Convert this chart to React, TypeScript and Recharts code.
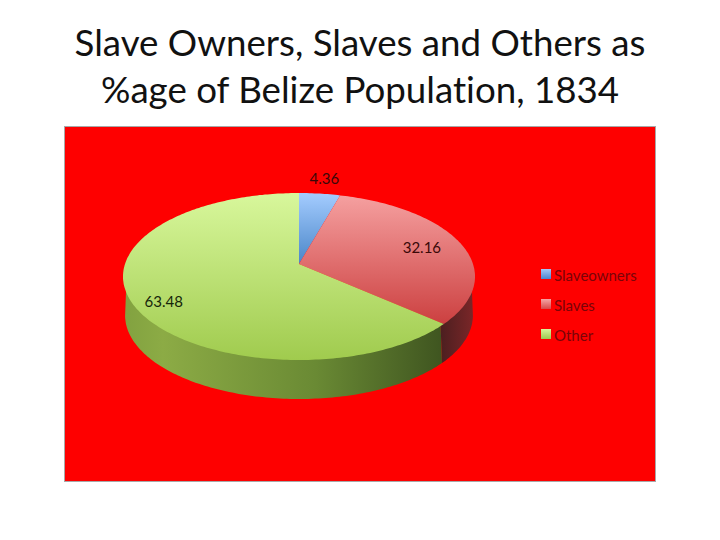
import { PieChart, Pie, Legend } from "recharts";

const titleLines = ["Slave Owners, Slaves and Others as", "%age of Belize Population, 1834"];
const groups = ["Slaveowners", "Slaves", "Other"];
const shares = [4.36, 32.16, 63.48];
const topFills = ["url(#topBlue)", "url(#topRed)", "url(#topGreen)"];
const wallFills = ["#3f6ea5", "url(#wallRed)", "url(#wallGreen)"];
const swatches = [
  "linear-gradient(#a4c8f8, #4a86d0)",
  "linear-gradient(#f5a5a5, #d84848)",
  "linear-gradient(#d8f59a, #9cc850)",
];
const labelRadii = [1.265, 0.76, 0.81];
const labelDrops = [0, 0, 8];

const rows = groups.map((name, i) => ({ name, value: shares[i], fill: topFills[i] }));

// the pie is tilted: a circle seen in perspective, so the apex sits above the ellipse centre
const FLATTEN = 0.469;
const PERSPECTIVE = 0.15;
const DEPTH = 39;
const WALL_SCALE = 0.988;
const RAD = Math.PI / 180;

function project(cx: number, cy: number, R: number, deg: number, r = 1) {
  const u = r * Math.cos(deg * RAD);
  const v = r * Math.sin(deg * RAD);
  const w = 1 + PERSPECTIVE * v;
  return { x: cx + (R * u) / w, y: cy - (R * FLATTEN * v) / w };
}

function arcPoints(cx: number, cy: number, R: number, from: number, to: number, r = 1) {
  const pts = [];
  const n = Math.max(2, Math.ceil(Math.abs(to - from)));
  for (let i = 0; i <= n; i++) pts.push(project(cx, cy, R, from + ((to - from) * i) / n, r));
  return pts;
}

const toPath = (pts: { x: number; y: number }[]) =>
  pts.map((p, i) => `${i ? "L" : "M"}${p.x.toFixed(1)} ${p.y.toFixed(1)}`).join(" ");

function Slice(props: any) {
  const { cx, cy, outerRadius, startAngle, endAngle } = props;
  const idx = groups.indexOf(props.name ?? props.payload?.name);
  const top = toPath([{ x: cx, y: cy }, ...arcPoints(cx, cy, outerRadius, startAngle, endAngle)]) + " Z";

  // only the front of the rim shows, between the far right and far left of the ellipse
  const edge = Math.asin(PERSPECTIVE) / RAD;
  const a = Math.min(startAngle, -edge);
  const b = Math.max(endAngle, -180 + edge);
  let wall = null;
  if (a > b) {
    // upper edge tucked under the top face so no red seam shows between them
    const upper = arcPoints(cx, cy, outerRadius, a, b, 0.98);
    const lower = arcPoints(cx, cy, outerRadius, a, b)
      .map((p) => ({ x: cx + (p.x - cx) * WALL_SCALE, y: p.y + DEPTH }))
      .reverse();
    wall = <path d={toPath([...upper, ...lower]) + " Z"} fill={wallFills[idx]} />;
  }
  return (
    <g>
      {wall}
      <path d={top} fill={props.fill} />
    </g>
  );
}

function SliceLabel(props: any) {
  const { cx, cy, outerRadius, midAngle, index, value } = props;
  const p = project(cx, cy, outerRadius, midAngle, labelRadii[index]);
  return (
    <text x={p.x} y={p.y + labelDrops[index]} textAnchor="middle" dominantBaseline="central" fontFamily="Lato" fontSize={15} fill={index === 2 ? "#16260a" : "#3a0808"}>
      {value}
    </text>
  );
}

function LegendBox({ payload }: any) {
  return (
    <div>
      {(payload ?? []).map((item: any, i: number) => (
        <div key={item.value} style={{ display: "flex", alignItems: "center", height: 30 }}>
          <span style={{ width: 10, height: 10, marginRight: 3, marginTop: -3, background: swatches[i] }} />
          <span style={{ fontFamily: "Lato", fontSize: 15, color: "#7a0408" }}>{item.value}</span>
        </div>
      ))}
    </div>
  );
}

export default function App() {
  return (
    <div style={{ position: "absolute", left: 0, top: 0, width: 720, height: 540, background: "#fff", overflow: "hidden" }}>
      {titleLines.map((line, i) => (
        <div
          key={line}
          style={{ position: "absolute", left: 0, width: 720, top: 18.5 + i * 47, textAlign: "center", fontFamily: "Lato", fontSize: 36.7, lineHeight: "47px", color: "#111", fontVariantLigatures: "none" }}
        >
          {line}
        </div>
      ))}
      <div style={{ position: "absolute", left: 64, top: 126, width: 590, height: 354, background: "#fe0000", border: "1px solid #a8a8a8" }} />
      <div style={{ position: "absolute", left: 0, top: 0 }}>
        <PieChart width={720} height={540} margin={{ top: 0, right: 0, bottom: 0, left: 0 }}>
          <defs>
            <linearGradient id="topBlue" x1="0" y1="0" x2="0" y2="1">
              <stop offset="0" stopColor="#a4ccff" />
              <stop offset="1" stopColor="#4a86c8" />
            </linearGradient>
            <linearGradient id="topRed" x1="0" y1="0" x2="0" y2="1">
              <stop offset="0" stopColor="#f5a0a0" />
              <stop offset="1" stopColor="#cc4040" />
            </linearGradient>
            <linearGradient id="topGreen" x1="0" y1="0" x2="0" y2="1">
              <stop offset="0" stopColor="#d8f79c" />
              <stop offset="1" stopColor="#a0cb4e" />
            </linearGradient>
            <linearGradient id="wallGreen" x1="0" y1="0" x2="1" y2="0">
              <stop offset="0" stopColor="#82a240" />
              <stop offset="0.12" stopColor="#8cab45" />
              <stop offset="0.6" stopColor="#6a8a34" />
              <stop offset="1" stopColor="#3f5520" />
            </linearGradient>
            <linearGradient id="wallRed" x1="0" y1="0" x2="1" y2="0">
              <stop offset="0" stopColor="#4c1f20" />
              <stop offset="1" stopColor="#7a2628" />
            </linearGradient>
          </defs>
          <Pie
            data={rows}
            dataKey="value"
            nameKey="name"
            cx={299}
            cy={264}
            outerRadius={174}
            startAngle={90}
            endAngle={-270}
            stroke="none"
            isAnimationActive={false}
            labelLine={false}
            label={SliceLabel}
            shape={Slice}
          />
          <Legend
            content={LegendBox}
            layout="vertical"
            itemSorter={null}
            wrapperStyle={{ position: "absolute", left: 541, top: 260, width: 110 }}
          />
        </PieChart>
      </div>
    </div>
  );
}
